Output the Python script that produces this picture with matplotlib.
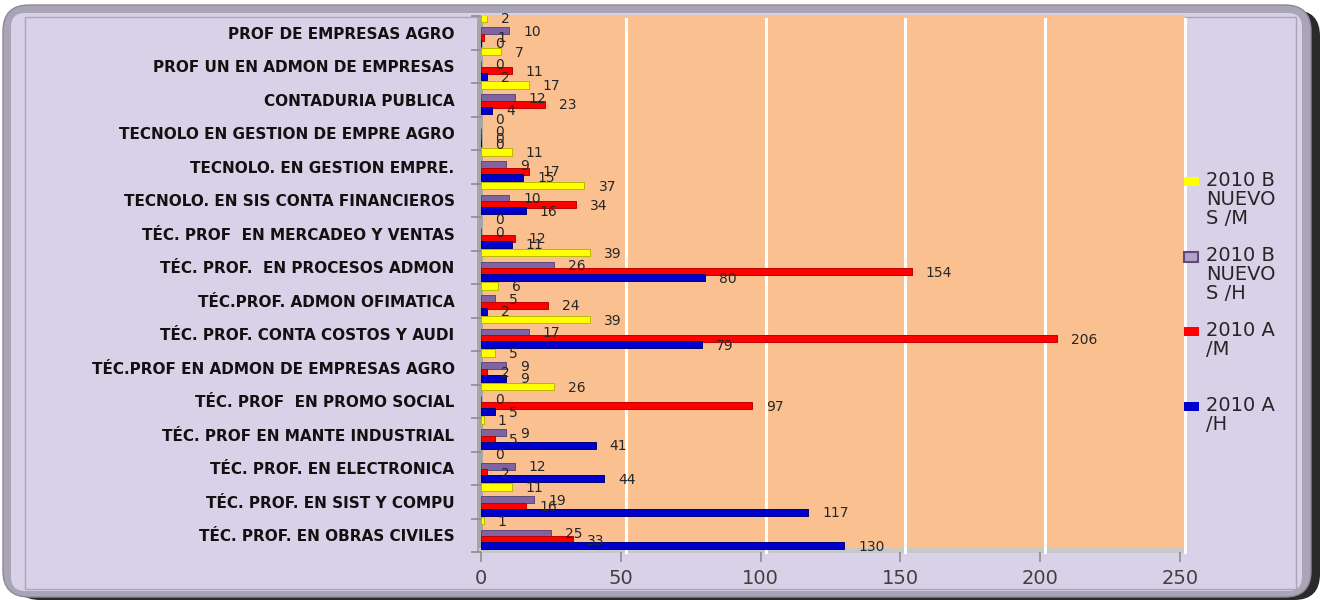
import matplotlib
matplotlib.use("Agg")
import matplotlib.pyplot as plt
from matplotlib.patches import FancyBboxPatch, Rectangle
from matplotlib.transforms import IdentityTransform, offset_copy, ScaledTranslation
import numpy as np

# ---------------- data (top to bottom as shown) ----------------
categories = [
    "PROF DE EMPRESAS AGRO",
    "PROF UN EN ADMON DE EMPRESAS",
    "CONTADURIA PUBLICA",
    "TECNOLO EN GESTION DE EMPRE AGRO",
    "TECNOLO. EN GESTION EMPRE.",
    "TECNOLO. EN SIS CONTA FINANCIEROS",
    "TÉC. PROF  EN MERCADEO Y VENTAS",
    "TÉC. PROF.  EN PROCESOS ADMON",
    "TÉC.PROF. ADMON OFIMATICA",
    "TÉC. PROF. CONTA COSTOS Y AUDI",
    "TÉC.PROF EN ADMON DE EMPRESAS AGRO",
    "TÉC. PROF  EN PROMO SOCIAL",
    "TÉC. PROF EN MANTE INDUSTRIAL",
    "TÉC. PROF. EN ELECTRONICA",
    "TÉC. PROF. EN SIST Y COMPU",
    "TÉC. PROF. EN OBRAS CIVILES",
]
b_nuevos_m = [2, 7, 17, 0, 11, 37, 0, 39, 6, 39, 5, 26, 1, 0, 11, 1]
b_nuevos_h = [10, 0, 12, 0, 9, 10, 0, 26, 5, 17, 9, 0, 9, 12, 19, 25]
a_m = [1, 11, 23, 0, 17, 34, 12, 154, 24, 206, 2, 97, 5, 2, 16, 33]
a_h = [0, 2, 4, 0, 15, 16, 11, 80, 2, 79, 9, 5, 41, 44, 117, 130]
series_names = ["2010 B NUEVOS /M", "2010 B NUEVOS /H", "2010 A /M", "2010 A /H"]
legend_lines = ["2010 B\nNUEVO\nS /M", "2010 B\nNUEVO\nS /H", "2010 A\n/M", "2010 A\n/H"]
x_ticks = [0, 50, 100, 150, 200, 250]

# ---------------- styles ----------------
W, H = 1322, 601
LAV = "#d9d1e7"
ORANGE = "#fac090"
fills = ["#ffff00", "#8064a2", "#ff0000", "#0000cc"]
edges = ["#b8b800", "#5f497a", "#c00000", "#00007a"]
offsets = [0.44, 0.06, -0.14, -0.31]
bar_h = 0.21

fig = plt.figure(figsize=(W / 100, H / 100), dpi=100)
fig.patch.set_facecolor("white")
I = IdentityTransform()

def py(y):  # pixel-from-top -> display y
    return H - y

# frame: shadow, bevel, fill, inner line
fig.patches.append(FancyBboxPatch((14, py(600)), 1306, 590,
                                  boxstyle="round,pad=0,rounding_size=26",
                                  fc="#2a2a2a", ec="none", transform=I, zorder=0))
fig.patches.append(FancyBboxPatch((3, py(597)), 1308, 592,
                                  boxstyle="round,pad=0,rounding_size=26",
                                  fc="#a9a5b6", ec="#8d899a", lw=1, transform=I, zorder=0.1))
fig.patches.append(FancyBboxPatch((11, py(591)), 1291, 578,
                                  boxstyle="round,pad=0,rounding_size=14",
                                  fc=LAV, ec="none", transform=I, zorder=0.2))
fig.patches.append(Rectangle((25, py(589)), 1271, 572, fc="none", ec="#aaa6b6",
                             lw=1, transform=I, zorder=0.3))

# plot wall (extends slightly right of axes for the 3D back wall)
fig.patches.append(Rectangle((481, py(552)), 704, 537, fc=ORANGE, ec="none",
                             transform=I, zorder=0.4))
# left wall and floor
fig.patches.append(Rectangle((477, py(552)), 6, 536, fc="#a6a6a6", ec="none",
                             transform=I, zorder=0.6))
fig.patches.append(Rectangle((479, py(553)), 706, 5, fc="#c8c8c8", ec="none",
                             transform=I, zorder=0.6))

ax = fig.add_axes([481 / W, 1 - 552 / H, (1180 - 481) / W, (552 - 16) / H])
ax.set_zorder(1)
ax.set_facecolor("none")
n = len(categories)
ypos = np.arange(n)[::-1]  # top category gets highest y

ax.set_xlim(0, 250)
ax.set_ylim(-0.5, n - 0.5)

# back-wall gridlines (shifted a few pixels right for depth)
shift = ScaledTranslation(5 / 100, 0, fig.dpi_scale_trans)
for g in x_ticks[1:]:
    ax.plot([g, g], [0, 0.995], color="white", lw=2.2, zorder=1,
            transform=ax.get_xaxis_transform() + shift, clip_on=False)

series = [b_nuevos_m, b_nuevos_h, a_m, a_h]
label_tr = offset_copy(ax.transData, fig=fig, x=14, y=-1, units="dots")
for k, vals in enumerate(series):
    yy = ypos + offsets[k]
    ax.barh(yy, vals, height=bar_h, color=fills[k], edgecolor=edges[k],
            lw=0.7, zorder=3, label=series_names[k])
    for v, y in zip(vals, yy):
        ax.text(v, y, str(v), transform=label_tr, ha="left", va="center",
                fontsize=10, color="#262626", family="DejaVu Sans", zorder=5)

for s in ax.spines.values():
    s.set_visible(False)

# x axis
ax.set_xticks(x_ticks)
ax.set_xticklabels([str(t) for t in x_ticks], fontsize=14, color="#404040",
                   family="DejaVu Sans")
ax.tick_params(axis="x", direction="out", length=7, width=1.2, color="#8c8c8c", pad=5)

# y axis: ticks at boundaries, labels at centres
ax.set_yticks(np.arange(-0.5, n, 1.0))
ax.set_yticklabels([])
ax.tick_params(axis="y", which="major", direction="out", length=7, width=1.2,
               color="#8c8c8c")
ax.set_yticks(ypos, categories, minor=True)
ax.tick_params(axis="y", which="minor", length=0, pad=19)
for t in ax.get_yticklabels(minor=True):
    t.set_fontsize(11)
    t.set_fontweight("bold")
    t.set_color("#111111")
    t.set_family("DejaVu Sans")

# legend (manual, evenly spaced like the original)
for k in range(4):
    yc = 182 + 75 * k
    if k == 1:
        fig.patches.append(Rectangle((1184, py(yc + 5)), 14, 10, fc="#b3a2c7",
                                     ec="#5f497a", lw=1.5, transform=I, zorder=3))
    else:
        fig.patches.append(Rectangle((1184, py(yc + 4)), 15, 9, fc=fills[k],
                                     ec="none", transform=I, zorder=3))
    fig.text(1206 / W, 1 - (yc - 11) / H, legend_lines[k], ha="left", va="top",
             fontsize=14, color="#262626", family="DejaVu Sans", linespacing=1.0)

fig.savefig("out.png", dpi=100, facecolor=fig.get_facecolor())
